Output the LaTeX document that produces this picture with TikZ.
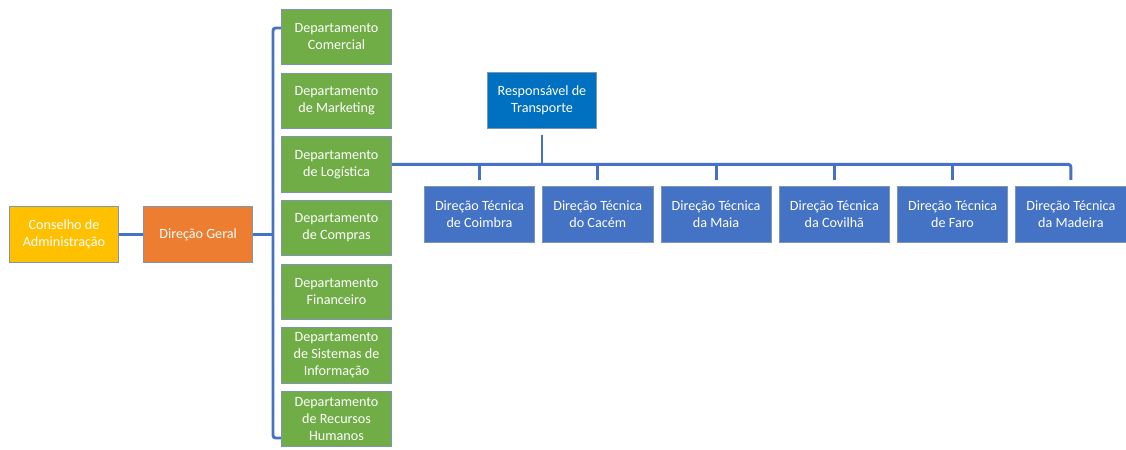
\documentclass[tikz,border=0pt]{standalone}
\usepackage{fontspec}
\setmainfont{Carlito}
\usetikzlibrary{positioning,calc}
\definecolor{linkblue}{HTML}{4472C4}
\definecolor{boxedge}{HTML}{7F95B5}
\definecolor{goldfill}{HTML}{FFC000}
\definecolor{orangefill}{HTML}{ED7D31}
\definecolor{greenfill}{HTML}{70AD47}
\definecolor{navyfill}{HTML}{0070C0}
\definecolor{bluefill}{HTML}{4472C4}

\begin{document}
\begin{tikzpicture}[x=0.75pt, y=-0.75pt,
  box/.style={draw=boxedge, line width=0.6pt, text=white, align=center,
    font=\fontsize{10.6}{12.75}\selectfont, minimum width=82pt, minimum height=42.2pt, inner sep=1pt},
  gbox/.style={box, fill=greenfill, minimum width=82.7pt, minimum height=41.4pt},
  tbox/.style={box, fill=bluefill, minimum width=82.7pt},
  link/.style={draw=linkblue, line width=2.2pt}]
\useasboundingbox (0,0) rectangle (1126,449);
% left
\node[box, fill=goldfill] (cons) at (64,234.5) {Conselho de\\Administração};
\node[box, fill=orangefill, right=18pt of cons] (dg) {Direção Geral};
% departamentos
\node[gbox] (dcom) at (336.5,37) {Departamento\\Comercial};
\node[gbox, below=5.75pt of dcom] (dmkt) {Departamento\\de Marketing};
\node[gbox, below=5.75pt of dmkt] (dlog) {Departamento\\de Logística};
\node[gbox, below=5.75pt of dlog] (dcmp) {Departamento\\de Compras};
\node[gbox, below=5.75pt of dcmp] (dfin) {Departamento\\Financeiro};
\node[gbox, below=5.75pt of dfin] (dsi) {Departamento\\de Sistemas de\\Informação};
\node[gbox, below=5.75pt of dsi] (drh) {Departamento\\de Recursos\\Humanos};
% transporte
\node[box, fill=navyfill] (resp) at (542,100.5) {Responsável de\\Transporte};
\node[tbox] (dtc1) at (479.5,214.5) {Direção Técnica\\de Coimbra};
\node[tbox, right=5.4pt of dtc1] (dtc2) {Direção Técnica\\do Cacém};
\node[tbox, right=5.4pt of dtc2] (dtc3) {Direção Técnica\\da Maia};
\node[tbox, right=5.4pt of dtc3] (dtc4) {Direção Técnica\\da Covilhã};
\node[tbox, right=5.4pt of dtc4] (dtc5) {Direção Técnica\\de Faro};
\node[tbox, right=5.4pt of dtc5] (dtc6) {Direção Técnica\\da Madeira};
% connectors
\coordinate (bk) at ($(dcom.west)+(-8,0)$);
\draw[link] (cons) -- (dg);
\draw[link] (dg.east) -- (dg.east -| bk);
\draw[link, rounded corners=2pt] ($(dcom.west)+(0,-9)$) -| ($(drh.west)+(-8,19)$) -- ($(drh.west)+(0,19)$);
\draw[link, rounded corners=2pt] (dlog.east) -| ($(dtc6.north)+(0,-6)$);
\foreach \n in {1,...,5}
  \draw[link] ($(dtc\n.north)+(0,-6)$) -- (dtc\n.north |- dlog.east);
\draw[link] ($(resp.south)+(0,6)$) -- (resp.south |- dlog.east);
\end{tikzpicture}
\end{document}
